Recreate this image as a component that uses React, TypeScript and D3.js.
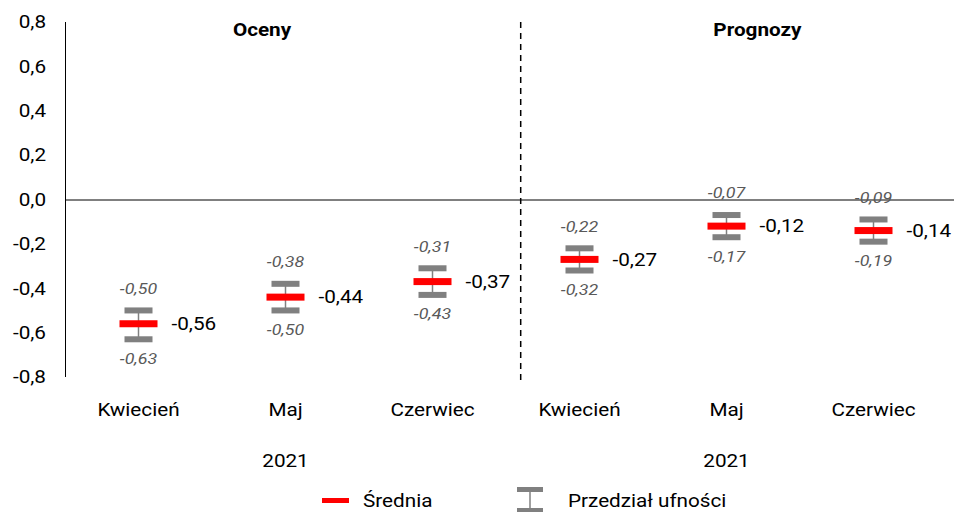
import React from "react";
import * as d3 from "d3";

const categories = ["Kwiecień", "Maj", "Czerwiec", "Kwiecień", "Maj", "Czerwiec"];
const means = [-0.56, -0.44, -0.37, -0.27, -0.12, -0.14];
const upper = [-0.5, -0.38, -0.31, -0.22, -0.07, -0.09];
const lower = [-0.63, -0.5, -0.43, -0.32, -0.17, -0.19];
const yTicks = [0.8, 0.6, 0.4, 0.2, 0.0, -0.2, -0.4, -0.6, -0.8];
const groups = ["Oceny", "Prognozy"];
const years = ["2021", "2021"];
const legendLabels = ["Średnia", "Przedział ufności"];

const W = 954;
const H = 512;
const SX = 1.15;
const fmt = (v: number) => d3.format(".2f")(v).replace(".", ",").replace("−", "-");
const fmt1 = (v: number) => d3.format(".1f")(v).replace(".", ",").replace("−", "-");

function Txt(props: any) {
  const { x, y, children, ...rest } = props;
  return (
    <text transform={`translate(${x},${y}) scale(${SX},1)`} dy="0.35em" {...rest}>
      {children}
    </text>
  );
}

export default function App() {
  const y = d3.scaleLinear().domain([-0.8, 0.8]).range([377, 22]);
  const x = d3.scaleBand<number>().domain(d3.range(categories.length)).range([65, 947]);
  const cx = (i: number) => (x(i) as number) + x.bandwidth() / 2;
  const xi = d3.scaleLinear().domain([0, 1]).range([cx(0), cx(1)]);
  const font = "Roboto, 'Noto Sans', sans-serif";
  const grey = "#808080";
  const sepX = xi(2.6);

  return (
    <svg width={W} height={H} style={{ position: "absolute", left: 0, top: 0, fontFamily: font }}>
      <rect width={W} height={H} fill="#fff" />
      {/* y axis */}
      <line x1={65.5} x2={65.5} y1={y(0.8)} y2={y(-0.8)} stroke="#000" strokeWidth={1} />
      {yTicks.map((t) => (
        <Txt key={t} x={46} y={y(t)} textAnchor="end" fontSize={18} fill="#000">
          {fmt1(t)}
        </Txt>
      ))}
      {/* zero line */}
      <line x1={65} x2={W} y1={y(0) + 0.5} y2={y(0) + 0.5} stroke="#000" strokeWidth={1} />
      {/* separator */}
      <line x1={sepX} x2={sepX} y1={y(0.8)} y2={y(-0.8) + 3} stroke="#000" strokeWidth={1.5} strokeDasharray="6,5" />
      {/* group titles */}
      <Txt x={xi(0.84)} y={30} textAnchor="middle" fontSize={18} fontWeight="bold">{groups[0]}</Txt>
      <Txt x={xi(4.21)} y={30} textAnchor="middle" fontSize={18} fontWeight="bold">{groups[1]}</Txt>
      {/* categories */}
      {categories.map((c, i) => (
        <Txt key={i} x={cx(i)} y={410} textAnchor="middle" fontSize={18}>{c}</Txt>
      ))}
      {years.map((yr, g) => (
        <Txt key={g} x={cx(g * 3 + 1)} y={461} textAnchor="middle" fontSize={18}>{yr}</Txt>
      ))}
      {/* error bars */}
      {means.map((m, i) => {
        const c = cx(i);
        return (
          <g key={i}>
            <line x1={c} x2={c} y1={y(upper[i])} y2={y(lower[i])} stroke={grey} strokeWidth={1.5} />
            <rect x={c - 14} y={y(upper[i]) - 3} width={28} height={6} fill={grey} />
            <rect x={c - 14} y={y(lower[i]) - 3} width={28} height={6} fill={grey} />
            <rect x={c - 19} y={y(m) - 3.5} width={38} height={7} fill="#ff0000" />
            <Txt x={c + 33} y={y(m)} fontSize={18} fill="#000">{fmt(m)}</Txt>
            <Txt x={c} y={y(upper[i]) - 22} textAnchor="middle" fontSize={15.5} fontStyle="italic" fill="#595959">{fmt(upper[i])}</Txt>
            <Txt x={c} y={y(lower[i]) + 19} textAnchor="middle" fontSize={15.5} fontStyle="italic" fill="#595959">{fmt(lower[i])}</Txt>
          </g>
        );
      })}
      {/* legend */}
      <rect x={322} y={498} width={27} height={5} fill="#ff0000" />
      <Txt x={363} y={501} fontSize={18}>{legendLabels[0]}</Txt>
      <line x1={530} x2={530} y1={489} y2={510} stroke={grey} strokeWidth={1.5} />
      <rect x={517} y={487} width={26} height={5} fill={grey} />
      <rect x={517} y={508} width={26} height={5} fill={grey} />
      <Txt x={568} y={501} fontSize={18}>{legendLabels[1]}</Txt>
    </svg>
  );
}
